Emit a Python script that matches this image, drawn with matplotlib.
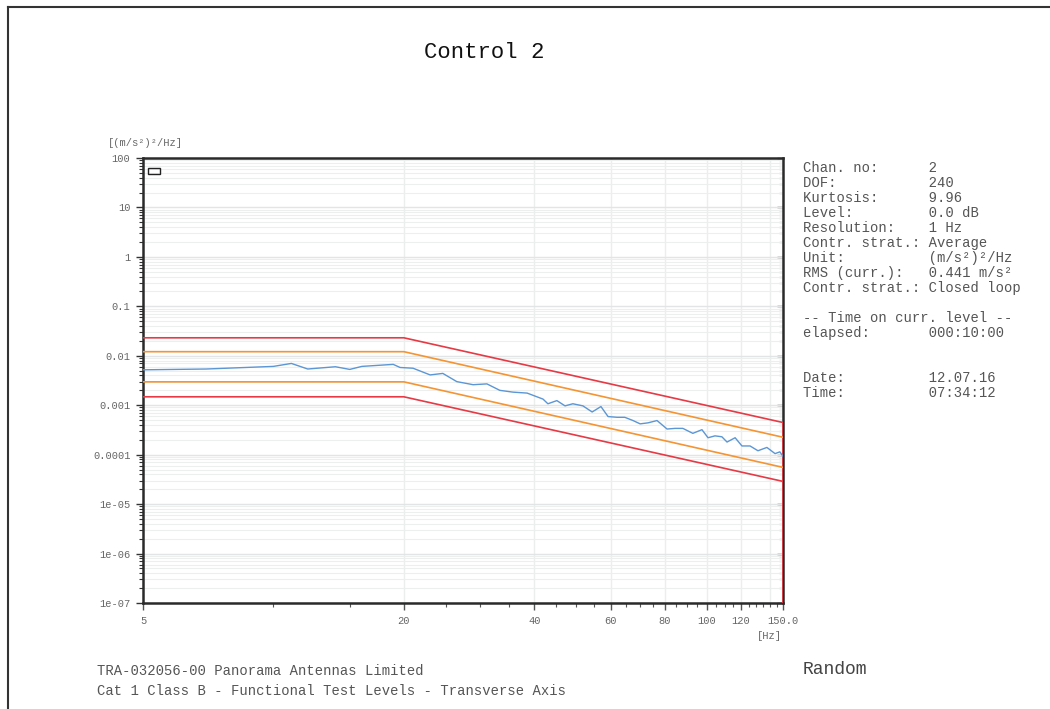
import matplotlib
matplotlib.use('Agg')
import matplotlib.pyplot as plt
from matplotlib.patches import Rectangle
from matplotlib.lines import Line2D
from matplotlib.ticker import FixedLocator, FixedFormatter, LogLocator, NullFormatter

plt.rcParams['font.family'] = ['Liberation Mono', 'DejaVu Sans Mono']

freq = [5, 7, 10, 11, 12, 13.9, 15, 16, 18.9, 19.6, 21, 23, 24.6, 26.5, 28.9,
        31.1, 33.3, 35.7, 38.5, 41.9, 43, 45.1, 47.1, 49.1, 51.8, 54.4, 57,
        59.2, 62.1, 64.7, 67.6, 70.2, 73.2, 76.8, 81, 84.5, 88.1, 92.9, 97.5,
        100.7, 104.5, 108.4, 111.4, 116.3, 120.6, 125.9, 131.3, 137.7, 143.8,
        147.5, 150]
psd = [0.0052, 0.0054, 0.0061, 0.0070, 0.0054, 0.0060, 0.0053, 0.0061, 0.0067,
       0.0058, 0.0056, 0.0041, 0.0044, 0.0030, 0.0026, 0.0027, 0.0020, 0.00184,
       0.00176, 0.00133, 0.00107, 0.00124, 0.00097, 0.00107, 0.00097, 0.00073,
       0.00094, 0.00059, 0.00057, 0.00057, 0.00049, 0.00042, 0.00044, 0.00049,
       0.00033, 0.00034, 0.00034, 0.00027, 0.00032, 0.00022, 0.00024, 0.00023,
       0.00018, 0.00022, 0.00015, 0.00015, 0.00012, 0.00014, 0.000105,
       0.000114, 0.000093]

# tolerance bands
band_freq = [5, 20, 150]
abort_hi_freq = [5, 20, 150, 150]
abort_hi = [0.0231, 0.0231, 0.000447, 1e-7]
alarm_hi = [0.0121, 0.0121, 0.000225]
alarm_lo = [0.00297, 0.00297, 0.0000553]
abort_lo = [0.00148, 0.00148, 0.0000288]

xticks = [5, 20, 40, 60, 80, 100, 120, 150]
xticklabels = ['5', '20', '40', '60', '80', '100', '120', '150.0']
xminor = [10, 15, 25, 30, 35, 45, 50, 55, 65, 70, 75, 85, 90, 95, 105, 110,
          115, 125, 130, 135, 140, 145]
xgrid = [20, 40, 60, 80, 100, 120, 140]
yticks = [1e-7, 1e-6, 1e-5, 1e-4, 1e-3, 1e-2, 1e-1, 1, 10, 100]
yticklabels = ['1e-07', '1e-06', '1e-05', '0.0001', '0.001', '0.01', '0.1',
               '1', '10', '100']

info_lines = [
    'Chan. no:      2',
    'DOF:           240',
    'Kurtosis:      9.96',
    'Level:         0.0 dB',
    'Resolution:    1 Hz',
    'Contr. strat.: Average',
    'Unit:          (m/s\u00b2)\u00b2/Hz',
    'RMS (curr.):   0.441 m/s\u00b2',
    'Contr. strat.: Closed loop',
    '',
    '-- Time on curr. level --',
    'elapsed:       000:10:00',
    '',
    '',
    'Date:          12.07.16',
    'Time:          07:34:12',
]

W, H = 1050, 709
fig = plt.figure(figsize=(W / 100, H / 100), dpi=100)
ax = fig.add_axes([143 / W, 1 - 603 / H, 640 / W, 445 / H])

red = '#e63a45'
orange = '#f59433'
blue = '#5b96d5'

ax.plot(abort_hi_freq, abort_hi, color=red, lw=1.2, zorder=3)
ax.plot(band_freq, abort_lo, color=red, lw=1.2, zorder=3)
ax.plot(band_freq, alarm_hi, color=orange, lw=1.2, zorder=3)
ax.plot(band_freq, alarm_lo, color=orange, lw=1.2, zorder=3)
ax.plot(freq, psd, color=blue, lw=1.0, zorder=4)

ax.set_xscale('log')
ax.set_yscale('log')
ax.set_xlim(5, 150)
ax.set_ylim(1e-7, 100)

ax.xaxis.set_major_locator(FixedLocator(xticks))
ax.xaxis.set_major_formatter(FixedFormatter(xticklabels))
ax.xaxis.set_minor_locator(FixedLocator(xminor))
ax.xaxis.set_minor_formatter(NullFormatter())
ax.yaxis.set_major_locator(FixedLocator(yticks))
ax.yaxis.set_major_formatter(FixedFormatter(yticklabels))
ax.yaxis.set_minor_locator(LogLocator(base=10, subs=range(2, 10), numticks=20))
ax.yaxis.set_minor_formatter(NullFormatter())

ax.grid(True, which='major', axis='y', color='#e2e5e5', lw=1.0, zorder=0)
ax.grid(True, which='minor', axis='y', color='#edefef', lw=0.8, zorder=0)
for g in xgrid:
    ax.axvline(g, color='#eceeee', lw=1.0, zorder=0)

for s in ax.spines.values():
    s.set_color('#2a2a2a')
    s.set_linewidth(1.8)

ax.tick_params(axis='y', which='both', left=True, right=False, direction='out',
               labelsize=7.5, labelcolor='#666666', color='#333333', pad=4)
ax.tick_params(axis='y', which='major', length=5, width=1)
ax.tick_params(axis='y', which='minor', length=3, width=0.8)
ax.tick_params(axis='x', which='both', direction='out', labelsize=7.5,
               labelcolor='#666666', color='#555555', pad=4)
ax.tick_params(axis='x', which='major', length=5, width=1)
ax.tick_params(axis='x', which='minor', length=3, width=0.8)

# inward ticks on the right edge
rax = ax.secondary_yaxis('right')
rax.yaxis.set_major_locator(FixedLocator(yticks))
rax.yaxis.set_minor_locator(LogLocator(base=10, subs=range(2, 10), numticks=20))
rax.yaxis.set_major_formatter(NullFormatter())
rax.yaxis.set_minor_formatter(NullFormatter())
rax.tick_params(which='both', direction='in', color='#333333')
rax.tick_params(which='major', length=4, width=1)
rax.tick_params(which='minor', length=3, width=0.8)
rax.spines['right'].set_visible(False)

ax.add_patch(Rectangle((0.0078, 0.964), 0.019, 0.0135, transform=ax.transAxes,
                       fill=False, edgecolor='#222222', lw=1.0, zorder=5))

fig.text(108 / W, 1 - 143 / H, '[(m/s\u00b2)\u00b2/Hz]', fontsize=7.5,
         color='#666666', va='center', ha='left')
fig.text(769 / W, 1 - 636 / H, '[Hz]', fontsize=7.5, color='#666666',
         va='center', ha='center')

fig.text(484 / W, 1 - 53 / H, 'Control 2', fontsize=16,
         color='#111111', ha='center', va='center')

for i, line in enumerate(info_lines):
    fig.text(803 / W, 1 - (168 + 15 * i) / H, line, fontsize=10,
             color='#555555', ha='left', va='center')

fig.text(97 / W, 1 - 671 / H, 'TRA-032056-00 Panorama Antennas Limited',
         fontsize=10, color='#555555', ha='left', va='center')
fig.text(97 / W, 1 - 691 / H,
         'Cat 1 Class B - Functional Test Levels - Transverse Axis',
         fontsize=10, color='#555555', ha='left', va='center')
fig.text(803 / W, 1 - 670 / H, 'Random', fontsize=13, color='#444444',
         ha='left', va='center')

# page frame (left and top edges)
fig.add_artist(Line2D([8 / W, 8 / W], [0, 1 - 7 / H], color='#333333', lw=1.5))
fig.add_artist(Line2D([8 / W, 1], [1 - 7 / H, 1 - 7 / H], color='#333333', lw=1.5))

fig.savefig('out.png', dpi=100)
